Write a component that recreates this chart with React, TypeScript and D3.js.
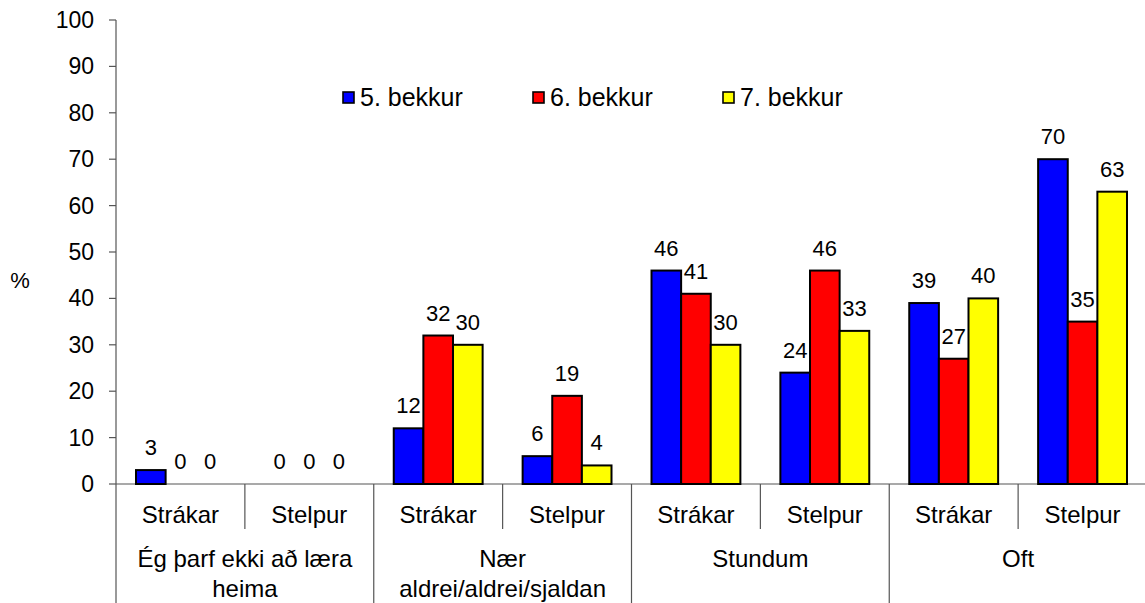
import React from "react";
import * as d3 from "d3";

const groups = ["Ég þarf ekki að læra|heima", "Nær|aldrei/aldrei/sjaldan", "Stundum", "Oft"];
const genders = ["Strákar", "Stelpur"];
const seriesNames = ["5. bekkur", "6. bekkur", "7. bekkur"];
const bekkur5 = [3, 0, 12, 6, 46, 24, 39, 70];
const bekkur6 = [0, 0, 32, 19, 41, 46, 27, 35];
const bekkur7 = [0, 0, 30, 4, 30, 33, 40, 63];
const yTicks = [0, 10, 20, 30, 40, 50, 60, 70, 80, 90, 100];

const colors = ["#0000ff", "#ff0000", "#ffff00"];
const font = "Arial, 'Liberation Sans', sans-serif";

const App = () => {
  const width = 1145;
  const height = 603;
  const left = 116;
  const right = 1147;
  const top = 20;
  const bottom = 484;

  const cats = groups.flatMap((g, gi) => genders.map((s) => `${gi}-${s}`));
  const series = [bekkur5, bekkur6, bekkur7];

  const x = d3.scaleBand().domain(cats).range([left, right]).padding(0);
  const bw = x.bandwidth();
  const xs = d3.scaleBand().domain(seriesNames).range([20, bw - 20]).padding(0);
  const y = d3.scaleLinear().domain([0, 100]).range([bottom, top]);

  const axisColor = "#555";

  return (
    <svg width={width} height={height} style={{ position: "absolute", left: 0, top: 0 }} fontFamily={font}>
      <rect width={width} height={height} fill="#fff" />
      {/* y axis */}
      <line x1={left} x2={left} y1={top} y2={height} stroke={axisColor} strokeWidth={1.2} />
      {yTicks.map((t) => (
        <g key={t}>
          <line x1={left - 7} x2={left} y1={y(t)} y2={y(t)} stroke={axisColor} strokeWidth={1.2} />
          <text x={left - 22} y={y(t)} dy="0.35em" textAnchor="end" fontSize={23}>
            {t}
          </text>
        </g>
      ))}
      <text x={20} y={280} dy="0.35em" textAnchor="middle" fontSize={22}>%</text>

      {/* x axis */}
      <line x1={left} x2={right} y1={bottom} y2={bottom} stroke={axisColor} strokeWidth={1.2} />
      {cats.map((c, i) => {
        const x0 = x(c)!;
        const xe = x0 + bw;
        const major = i % 2 === 1;
        return (
          <g key={c}>
            <line x1={xe} x2={xe} y1={bottom} y2={major ? height : 529} stroke={axisColor} strokeWidth={1.2} />
            <text x={x0 + bw / 2} y={515} dy="0.35em" textAnchor="middle" fontSize={24}>
              {genders[i % 2]}
            </text>
          </g>
        );
      })}
      {groups.map((g, gi) => {
        const cx = x(`${gi}-Strákar`)! + bw;
        return (
          <text key={g} textAnchor="middle" fontSize={24}>
            {g.split("|").map((line, li) => (
              <tspan key={li} x={cx} y={559 + li * 30} dy="0.35em">
                {line}
              </tspan>
            ))}
          </text>
        );
      })}

      {/* bars */}
      {series.map((vals, si) =>
        vals.map((v, i) => {
          const bx = x(cats[i])! + xs(seriesNames[si])!;
          return (
            <g key={`${si}-${i}`}>
              {v > 0 && (
                <rect
                  x={bx}
                  y={y(v)}
                  width={xs.bandwidth()}
                  height={y(0) - y(v)}
                  fill={colors[si]}
                  stroke="#000"
                  strokeWidth={2}
                />
              )}
              <text x={bx + xs.bandwidth() / 2} y={y(v) - 15} textAnchor="middle" fontSize={22}>
                {v}
              </text>
            </g>
          );
        })
      )}

      {/* legend */}
      {seriesNames.map((n, i) => {
        const lx = [343, 533, 723][i];
        return (
          <g key={n}>
            <rect x={lx} y={92} width={11} height={11} fill={colors[i]} stroke="#000" strokeWidth={1.6} />
            <text x={lx + 17} y={97} dy="0.35em" fontSize={25}>
              {n}
            </text>
          </g>
        );
      })}
    </svg>
  );
};

export default App;
